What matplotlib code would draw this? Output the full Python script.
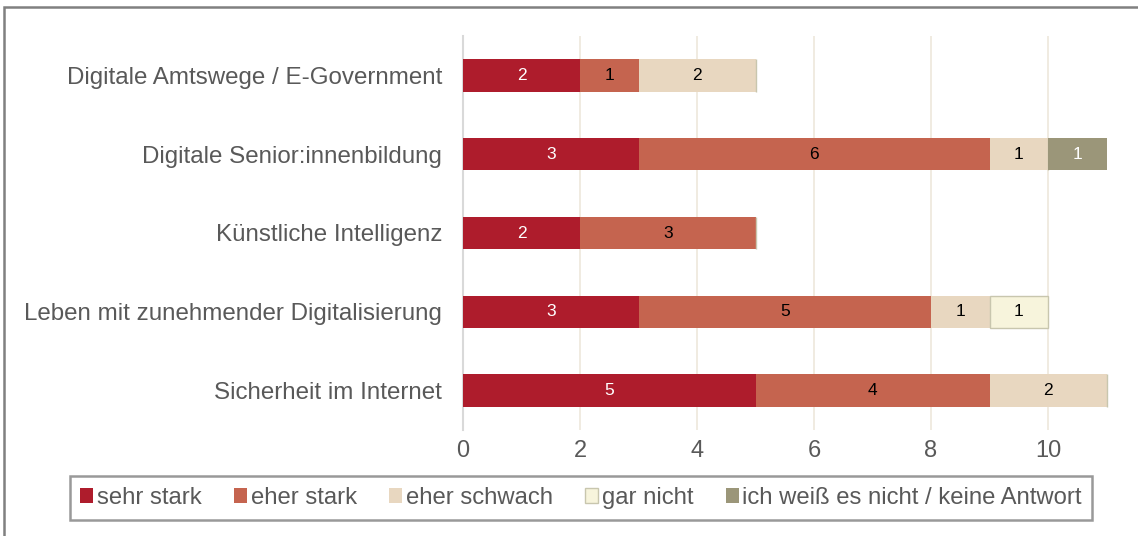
import matplotlib
matplotlib.use('Agg')
import matplotlib.pyplot as plt
from matplotlib.patches import Rectangle
import numpy as np

plt.rcParams['font.family'] = ['Liberation Sans', 'DejaVu Sans']

categories = ['Digitale Amtswege / E-Government',
              'Digitale Senior:innenbildung',
              'Künstliche Intelligenz',
              'Leben mit zunehmender Digitalisierung',
              'Sicherheit im Internet']
series = ['sehr stark', 'eher stark', 'eher schwach', 'gar nicht',
          'ich weiß es nicht / keine Antwort']
sehr_stark = [2, 3, 2, 3, 5]
eher_stark = [1, 6, 3, 5, 4]
eher_schwach = [2, 1, 0, 1, 2]
gar_nicht = [0, 0, 0, 1, 0]
weiss_nicht = [0, 1, 0, 0, 0]

colors = ['#AE1C2C', '#C5644F', '#E8D7C0', '#F7F4DC', '#9B9679']
edges = [None, None, None, '#C8C6AE', None]
label_colors = ['white', 'black', 'black', 'black', 'white']

fig = plt.figure(figsize=(11.38, 5.36), dpi=100)
ax = fig.add_axes([463 / 1138, 1 - 430 / 536, 1 - 463 / 1138, 394 / 536])

y = np.arange(len(categories))
left = np.zeros(len(categories))
for vals, name, c, ec, lc in zip(
        [sehr_stark, eher_stark, eher_schwach, gar_nicht, weiss_nicht],
        series, colors, edges, label_colors):
    vals = np.array(vals, dtype=float)
    bars = ax.barh(y, vals, left=left, height=0.41, color=c, label=name,
                   edgecolor=ec if ec else c, linewidth=1 if ec else 0, zorder=3)
    for b, v in zip(bars, vals):
        if v > 0:
            ax.text(b.get_x() + b.get_width() / 2, b.get_y() + b.get_height() / 2,
                    f'{int(v)}', ha='center', va='center', fontsize=12.5,
                    color=lc, zorder=4)
    left += vals

ax.set_xlim(0, (1138 - 463) / 58.5)
ax.set_ylim(len(categories) - 0.5, -0.5)
ax.set_xticks(range(0, 11, 2))
ax.set_yticks(y)
ax.set_yticklabels(categories, fontsize=17.4, color='#595959')
ax.tick_params(axis='x', labelsize=17, labelcolor='#595959', length=0, pad=7)
ax.tick_params(axis='y', length=0, pad=15)
ax.grid(axis='x', color='#EDE8DC', linewidth=1.2, zorder=0)
for s in ['top', 'right', 'bottom']:
    ax.spines[s].set_visible(False)
ax.spines['left'].set_color('#D9D9D9')
ax.spines['left'].set_linewidth(1.5)

# outer frame (cut off at right and bottom)
fig.patches.append(Rectangle((4 / 1138, -0.05), 1.1, 1 - 7 / 536 + 0.05,
                             transform=fig.transFigure, fill=False,
                             edgecolor='#808080', linewidth=1.8))

leg = fig.legend(loc='center', bbox_to_anchor=(581 / 1138, 1 - 498 / 536),
                 ncol=5, fontsize=17.2, frameon=True, handlelength=0.55,
                 handleheight=0.55, handletextpad=0.15, columnspacing=1.35,
                 borderpad=0.45, fancybox=False)
leg.get_frame().set_edgecolor('#808080')
leg.get_frame().set_linewidth(1.8)
for t in leg.get_texts():
    t.set_color('#595959')

fig.savefig('out.png', dpi=100, facecolor='white')
